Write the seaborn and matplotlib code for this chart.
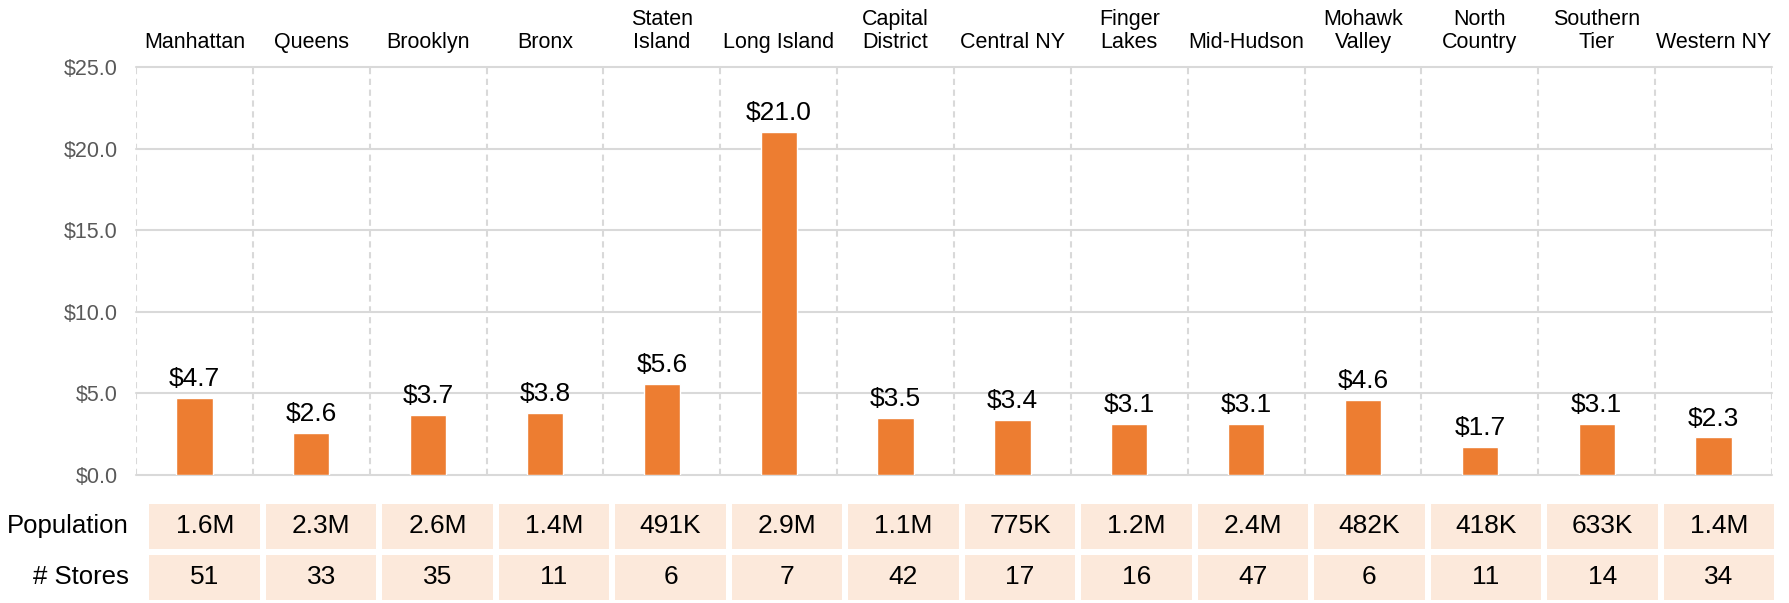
import numpy as np
import pandas as pd
import matplotlib
matplotlib.use("Agg")
import matplotlib.pyplot as plt
from matplotlib.colors import ListedColormap
from matplotlib.ticker import FixedLocator
import seaborn as sns

regions = ["Manhattan", "Queens", "Brooklyn", "Bronx", "Staten\nIsland", "Long Island",
           "Capital\nDistrict", "Central NY", "Finger\nLakes", "Mid-Hudson",
           "Mohawk\nValley", "North\nCountry", "Southern\nTier", "Western NY"]
spend = [4.7, 2.6, 3.7, 3.8, 5.6, 21.0, 3.5, 3.4, 3.1, 3.1, 4.6, 1.7, 3.1, 2.3]
population = ["1.6M", "2.3M", "2.6M", "1.4M", "491K", "2.9M", "1.1M", "775K",
              "1.2M", "2.4M", "482K", "418K", "633K", "1.4M"]
stores = ["51", "33", "35", "11", "6", "7", "42", "17", "16", "47", "6", "11", "14", "34"]
row_labels = ["Population", "# Stores"]
y_ticks = [0, 5, 10, 15, 20, 25]

sns.set_theme(style="white")
plt.rcParams["font.family"] = ["Liberation Sans", "DejaVu Sans"]

BAR = "#ED7D31"
GRID = "#D9D9D9"
CELL = "#FCE9DB"

W, H = 1790, 603
fig = plt.figure(figsize=(W / 100, H / 100), dpi=100)

# main bar axes
ax = fig.add_axes([136 / W, 1 - 475 / H, (1772 - 136) / W, (475 - 67) / H])
df = pd.DataFrame({"region": regions, "spend": spend})
sns.barplot(data=df, x="region", y="spend", color=BAR, width=0.31, ax=ax,
            saturation=1, errorbar=None)
ax.set_xlim(-0.5, len(regions) - 0.5)
ax.set_ylim(0, 25)
ax.set_yticks(y_ticks)
ax.set_yticklabels([f"${v:.1f}" for v in y_ticks])
ax.set_xlabel("")
ax.set_ylabel("")
for s in ax.spines.values():
    s.set_visible(False)

ax.xaxis.tick_top()
ax.tick_params(axis="x", which="major", length=0, pad=10, labelsize=15.5, labelcolor="black")
for t in ax.get_xticklabels():
    t.set_linespacing(1.12)
ax.tick_params(axis="y", length=0, pad=13, labelsize=15.5, labelcolor="#595959")

ax.xaxis.set_minor_locator(FixedLocator(np.arange(len(regions) + 1) - 0.5))
ax.tick_params(axis="x", which="minor", length=0)
ax.grid(axis="y", which="major", color=GRID, linewidth=1.5, linestyle="-")
ax.grid(axis="x", which="minor", color=GRID, linewidth=1.5, linestyle=(0, (3.0, 2.2)))
ax.grid(axis="x", which="major", visible=False)
ax.set_axisbelow(True)
for gl in ax.get_ygridlines():
    gl.set_clip_on(False)
for gl in ax.get_xgridlines():
    gl.set_clip_on(False)

ax.bar_label(ax.containers[0], labels=[f"${v:.1f}" for v in spend], padding=5,
             fontsize=19, color="black")

# table axes
tax = fig.add_axes([146.5 / W, 0, (1777 - 146.5) / W, 102.5 / H])
annot = np.array([population, stores])
sns.heatmap(np.zeros(annot.shape), annot=annot, fmt="", cmap=ListedColormap([CELL]),
            cbar=False, linewidths=3, linecolor="white", ax=tax,
            annot_kws={"fontsize": 19, "color": "black"},
            xticklabels=False, yticklabels=row_labels)
tax.tick_params(axis="y", length=0, pad=13, labelsize=18.5, labelcolor="black", rotation=0)
for s in tax.spines.values():
    s.set_visible(False)

fig.savefig("out.png", dpi=100)
